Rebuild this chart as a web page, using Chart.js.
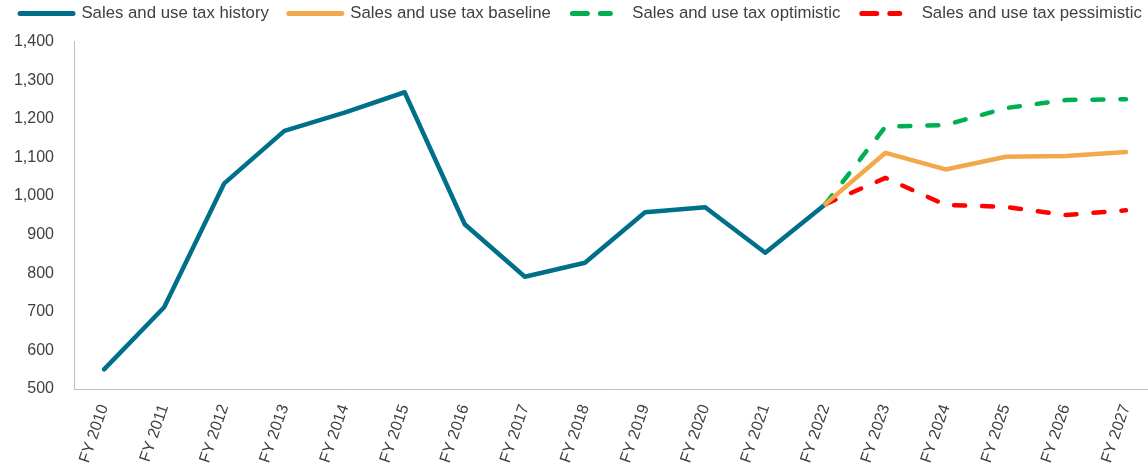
<!DOCTYPE html>
<html>
<head>
    <title>Sales and use tax</title>
    <script src="https://cdn.jsdelivr.net/npm/chart.js"></script>
    <style>
        html, body { margin: 0; padding: 0; overflow: hidden; background: #fff; }
        .container { position: absolute; left: 0; top: 0; width: 1230px; height: 474px; }
    </style>
</head>
<body>
    <div class="container">
        <canvas id="chart"></canvas>
    </div>

    <script>
        // Anos fiscais (eixo x)
        var anos = ['FY 2010', 'FY 2011', 'FY 2012', 'FY 2013', 'FY 2014', 'FY 2015', 'FY 2016', 'FY 2017', 'FY 2018',
                    'FY 2019', 'FY 2020', 'FY 2021', 'FY 2022', 'FY 2023', 'FY 2024', 'FY 2025', 'FY 2026', 'FY 2027'];

        // Séries
        var historico  = [551, 712, 1033, 1169, 1216, 1269, 927, 791, 827, 958, 971, 853, 979, null, null, null, null, null];
        var base       = [null, null, null, null, null, null, null, null, null, null, null, null, 979, 1112, 1069, 1102, 1104, 1114];
        var otimista   = [null, null, null, null, null, null, null, null, null, null, null, null, 979, 1180, 1184, 1228, 1249, 1251];
        var pessimista = [null, null, null, null, null, null, null, null, null, null, null, null, 979, 1047, 977, 972, 951, 963];

        var fonte = "'Liberation Sans', Arial, sans-serif";
        var corTexto = '#404040';

        // empurra o topo da área do gráfico para baixo da legenda
        var margemLegenda = {
            id: 'margemLegenda',
            beforeInit: function(chart) {
                var fitOriginal = chart.legend.fit;
                chart.legend.fit = function() {
                    fitOriginal.bind(chart.legend)();
                    this.height += 9.9;
                };
            }
        };

        function serie(label, data, cor, dash, ordem) {
            return {
                label: label,
                data: data,
                borderColor: cor,
                backgroundColor: cor,
                borderWidth: 4.5,
                borderDash: dash,
                borderCapStyle: 'round',
                borderJoinStyle: 'round',
                pointRadius: 0,
                pointHoverRadius: 0,
                tension: 0,
                spanGaps: false,
                order: ordem
            };
        }

        // itens da legenda: linha cheia ou dois traços
        function gerarLegenda(chart) {
            var itens = Chart.defaults.plugins.legend.labels.generateLabels(chart);
            itens.forEach(function(item) {
                var ds = chart.data.datasets[item.datasetIndex];
                item.lineWidth = 5;
                item.lineCap = 'round';
                item.pointStyle = 'line';
                if (ds.borderDash && ds.borderDash.length) {
                    item.lineDash = [15, 13, 10, 100];
                    item.lineDashOffset = 136.5;
                } else {
                    item.lineDash = [];
                    item.lineDashOffset = 0;
                }
            });
            return itens;
        }

        var ctx = document.getElementById('chart').getContext('2d');
        var chart = new Chart(ctx, {
            type: 'line',
            data: {
                labels: anos,
                datasets: [
                    serie('Sales and use tax history', historico, '#00708A', [], 1),
                    serie('Sales and use tax baseline', base, '#F2A84B', [], 0),
                    serie('Sales and use tax optimistic', otimista, '#00B050', [11, 17], 0),
                    serie('Sales and use tax pessimistic', pessimista, '#FF0000', [11, 17], 0)
                ]
            },
            options: {
                responsive: true,
                maintainAspectRatio: false,
                animation: false,
                layout: { padding: { top: -15, left: 0, right: 0, bottom: 0 } },
                plugins: {
                    tooltip: { enabled: false },
                    legend: {
                        position: 'top',
                        align: 'start',
                        labels: {
                            usePointStyle: true,
                            pointStyle: 'line',
                            pointStyleWidth: 53,
                            padding: 20,
                            color: corTexto,
                            font: { family: fonte, size: 16.8 },
                            generateLabels: gerarLegenda,
                            sort: function(a, b) { return a.datasetIndex - b.datasetIndex; }
                        }
                    }
                },
                scales: {
                    x: {
                        offset: true,
                        grid: { display: false, drawTicks: false },
                        border: { display: true, color: '#BFBFBF', width: 1 },
                        ticks: {
                            autoSkip: false,
                            minRotation: 71,
                            maxRotation: 71,
                            padding: 13,
                            color: corTexto,
                            font: { family: fonte, size: 16 }
                        },
                        afterFit: function(s) { s.height = 85; }
                    },
                    y: {
                        min: 500,
                        max: 1400,
                        grid: { display: false, drawTicks: false },
                        border: { display: true, color: '#BFBFBF', width: 1 },
                        ticks: {
                            stepSize: 100,
                            padding: 20,
                            color: corTexto,
                            font: { family: fonte, size: 16 },
                            callback: function(v) { return v.toLocaleString('en-US'); }
                        },
                        afterFit: function(s) { s.width = 74; }
                    },
                    // eixo vazio à direita só para cortar a área do gráfico
                    direita: {
                        type: 'linear',
                        position: 'right',
                        display: true,
                        grid: { display: false, drawTicks: false },
                        border: { display: false },
                        ticks: { display: false },
                        afterFit: function(s) { s.width = 74; }
                    }
                }
            },
            plugins: [margemLegenda]
        });
    </script>
</body>
</html>
